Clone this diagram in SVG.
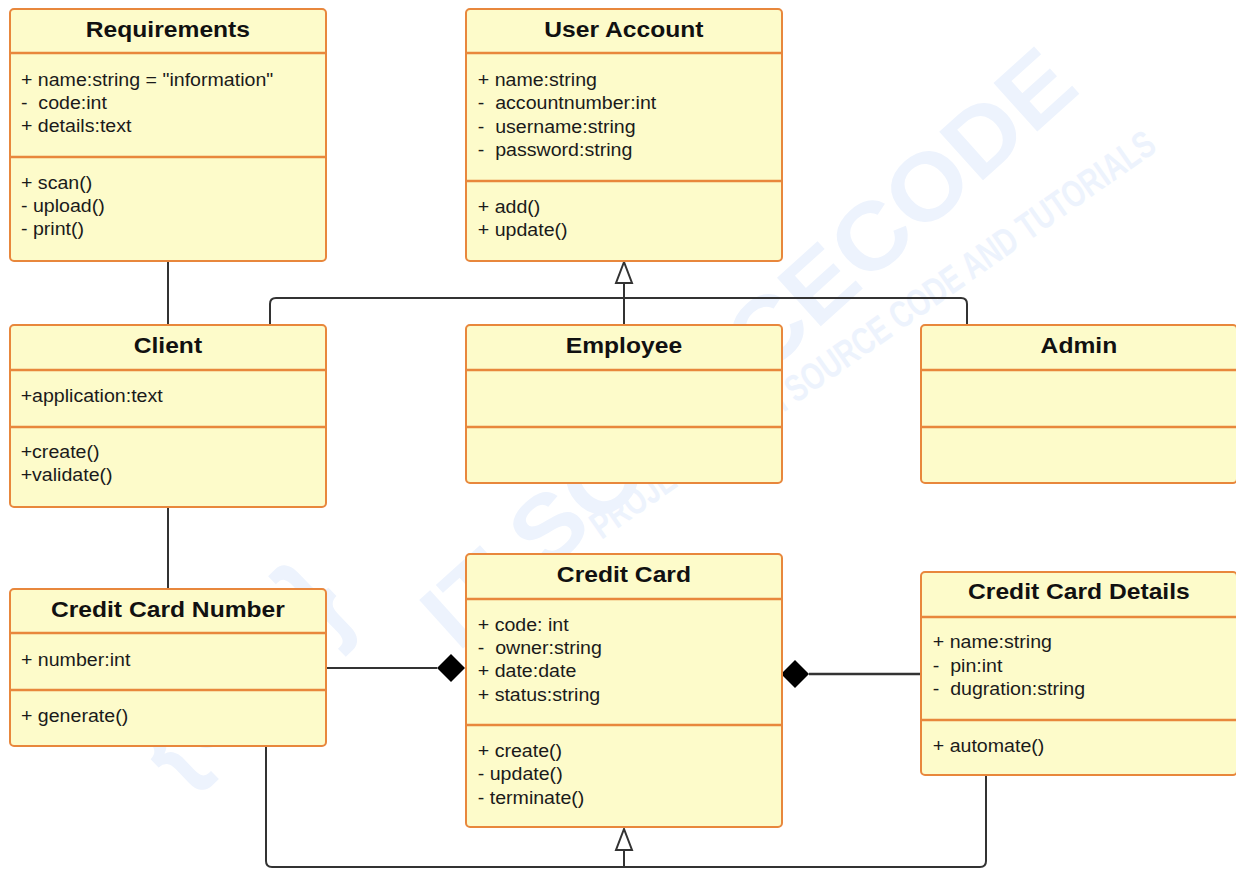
<svg xmlns="http://www.w3.org/2000/svg" width="1236" height="869" viewBox="0 0 1236 869">
  <style>
    .box{fill:#fdfbca;stroke:#e8873c;stroke-width:2}
    .sep{stroke:#e8873c;stroke-width:2.5}
    .t{font-family:"Liberation Sans",Arial,sans-serif;font-weight:bold;font-size:22px;fill:#111;text-anchor:middle}
    .a{font-family:"Liberation Sans",Arial,sans-serif;font-size:17.5px;fill:#1a1a1a;white-space:pre}
    .ln{fill:none;stroke:#333;stroke-width:2}
    .wm{font-family:"Liberation Sans",sans-serif;font-weight:bold;fill:#edf3fd;text-anchor:middle}
  </style>
  <defs>
    <polygon id="gen" points="0,0 -8,21 8,21" fill="#fff" stroke="#333" stroke-width="2"/>
    <polygon id="comp" points="0,0 14,-14 28,0 14,14" fill="#000"/>
  </defs>
  <rect width="1236" height="869" fill="#fff"/>

  <!-- background watermark -->
  <g id="watermark">
    <text class="wm" font-size="120" transform="translate(265,700) rotate(-44)" textLength="250" lengthAdjust="spacingAndGlyphs">{SC:}</text>
    <text class="wm" font-size="95" transform="translate(770,372) rotate(-42)" textLength="840" lengthAdjust="spacingAndGlyphs">IT SOURCECODE</text>
    <text class="wm" font-size="38" transform="translate(880,345) rotate(-35)" textLength="680" lengthAdjust="spacingAndGlyphs">PROJECTS WITH SOURCE CODE AND TUTORIALS</text>
  </g>

  <!-- connectors -->
  <g id="connectors">
    <path class="ln" d="M168 261 V325"/>
    <path class="ln" d="M168 507 V589"/>
    <path class="ln" d="M270 325 V304 Q270 298 276 298 H961 Q967 298 967 304 V325"/>
    <path class="ln" d="M624 325 V283"/>
    <use href="#gen" x="624" y="262"/>
    <path class="ln" d="M326 668 H437"/>
    <use href="#comp" x="437" y="668"/>
    <path class="ln" style="stroke-width:2.5" d="M809 674 H921"/>
    <use href="#comp" x="781" y="674"/>
    <path class="ln" d="M266 746 V861 Q266 867 272 867 H980 Q986 867 986 861 V775"/>
    <path class="ln" d="M624 867 V850"/>
    <use href="#gen" x="624" y="829"/>
  </g>

  <g id="requirements">
    <rect class="box" x="10" y="9" width="316" height="252" rx="4"/>
    <line class="sep" x1="10" y1="53" x2="326" y2="53"/>
    <line class="sep" x1="10" y1="157" x2="326" y2="157"/>
    <g transform="translate(10 0) scale(1.12 1)">
      <text class="t" x="141" y="37">Requirements</text>
      <text class="a" x="9.8" y="86">+ name:string = "information"</text>
      <text class="a" x="9.8" y="109">-  code:int</text>
      <text class="a" x="9.8" y="132">+ details:text</text>
      <text class="a" x="9.8" y="189">+ scan()</text>
      <text class="a" x="9.8" y="212">- upload()</text>
      <text class="a" x="9.8" y="235">- print()</text>
    </g>
  </g>

  <g id="user-account">
    <rect class="box" x="466" y="9" width="316" height="252" rx="4"/>
    <line class="sep" x1="466" y1="53" x2="782" y2="53"/>
    <line class="sep" x1="466" y1="181" x2="782" y2="181"/>
    <g transform="translate(466 0) scale(1.12 1)">
      <text class="t" x="141" y="37">User Account</text>
      <text class="a" x="10.5" y="86">+ name:string</text>
      <text class="a" x="10.5" y="109">-  accountnumber:int</text>
      <text class="a" x="10.5" y="133">-  username:string</text>
      <text class="a" x="10.5" y="156">-  password:string</text>
      <text class="a" x="10.5" y="213">+ add()</text>
      <text class="a" x="10.5" y="236">+ update()</text>
    </g>
  </g>

  <g id="client">
    <rect class="box" x="10" y="325" width="316" height="182" rx="4"/>
    <line class="sep" x1="10" y1="370" x2="326" y2="370"/>
    <line class="sep" x1="10" y1="427" x2="326" y2="427"/>
    <g transform="translate(10 0) scale(1.12 1)">
      <text class="t" x="141" y="353">Client</text>
      <text class="a" x="9.5" y="402">+application:text</text>
      <text class="a" x="9.5" y="458">+create()</text>
      <text class="a" x="9.5" y="481">+validate()</text>
    </g>
  </g>

  <g id="employee">
    <rect class="box" x="466" y="325" width="316" height="158" rx="4"/>
    <line class="sep" x1="466" y1="370" x2="782" y2="370"/>
    <line class="sep" x1="466" y1="427" x2="782" y2="427"/>
    <g transform="translate(466 0) scale(1.12 1)">
      <text class="t" x="141" y="353">Employee</text>
    </g>
  </g>

  <g id="admin">
    <rect class="box" x="921" y="325" width="316" height="158" rx="4"/>
    <line class="sep" x1="921" y1="370" x2="1237" y2="370"/>
    <line class="sep" x1="921" y1="427" x2="1237" y2="427"/>
    <g transform="translate(921 0) scale(1.12 1)">
      <text class="t" x="141" y="353">Admin</text>
    </g>
  </g>

  <g id="credit-card-number">
    <rect class="box" x="10" y="589" width="316" height="157" rx="4"/>
    <line class="sep" x1="10" y1="633" x2="326" y2="633"/>
    <line class="sep" x1="10" y1="690" x2="326" y2="690"/>
    <g transform="translate(10 0) scale(1.12 1)">
      <text class="t" x="141" y="617">Credit Card Number</text>
      <text class="a" x="9.8" y="666">+ number:int</text>
      <text class="a" x="9.8" y="722">+ generate()</text>
    </g>
  </g>

  <g id="credit-card">
    <rect class="box" x="466" y="554" width="316" height="273" rx="4"/>
    <line class="sep" x1="466" y1="599" x2="782" y2="599"/>
    <line class="sep" x1="466" y1="725" x2="782" y2="725"/>
    <g transform="translate(466 0) scale(1.12 1)">
      <text class="t" x="141" y="582">Credit Card</text>
      <text class="a" x="10.5" y="631">+ code: int</text>
      <text class="a" x="10.5" y="654">-  owner:string</text>
      <text class="a" x="10.5" y="677">+ date:date</text>
      <text class="a" x="10.5" y="701">+ status:string</text>
      <text class="a" x="10.5" y="757">+ create()</text>
      <text class="a" x="10.5" y="780">- update()</text>
      <text class="a" x="10.5" y="804">- terminate()</text>
    </g>
  </g>

  <g id="credit-card-details">
    <rect class="box" x="921" y="572" width="316" height="203" rx="4"/>
    <line class="sep" x1="921" y1="617" x2="1237" y2="617"/>
    <line class="sep" x1="921" y1="720" x2="1237" y2="720"/>
    <g transform="translate(921 0) scale(1.12 1)">
      <text class="t" x="141" y="599">Credit Card Details</text>
      <text class="a" x="10.5" y="648">+ name:string</text>
      <text class="a" x="10.5" y="672">-  pin:int</text>
      <text class="a" x="10.5" y="695">-  dugration:string</text>
      <text class="a" x="10.5" y="752">+ automate()</text>
    </g>
  </g>
</svg>
